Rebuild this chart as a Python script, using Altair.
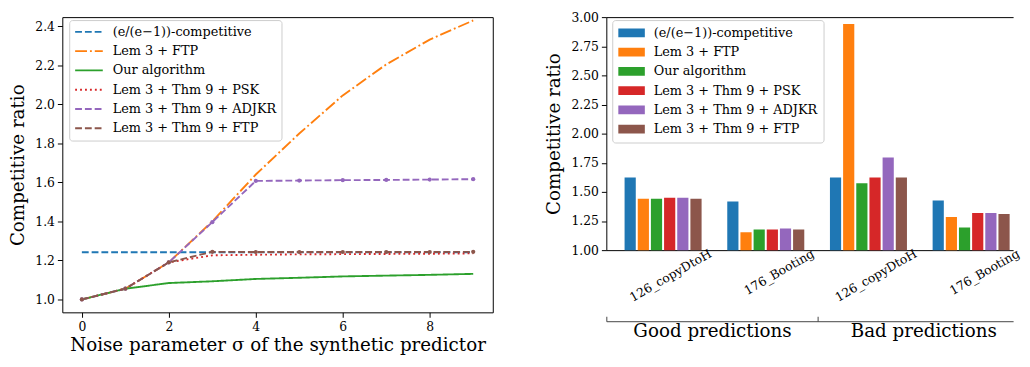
import altair as alt
import pandas as pd

FONT = "DejaVu Serif"

# ---------------- left panel data ----------------
sigma = [0, 1, 2, 3, 4, 5, 6, 7, 8, 9]
series_names = [
    "(e/(e−1))-competitive",
    "Lem 3 + FTP",
    "Our algorithm",
    "Lem 3 + Thm 9 + PSK",
    "Lem 3 + Thm 9 + ADJKR",
    "Lem 3 + Thm 9 + FTP",
]
competitive = [1.242, 1.242, 1.242, 1.242, 1.242, 1.242, 1.242, 1.242, 1.242, 1.242]
lem3_ftp = [1.000, 1.055, 1.190, 1.400, 1.640, 1.850, 2.045, 2.204, 2.331, 2.429]
our_algorithm = [1.000, 1.055, 1.084, 1.093, 1.105, 1.111, 1.118, 1.122, 1.126, 1.131]
thm9_psk = [1.000, 1.055, 1.190, 1.226, 1.229, 1.231, 1.232, 1.233, 1.234, 1.236]
thm9_adjkr = [1.000, 1.055, 1.190, 1.396, 1.607, 1.609, 1.611, 1.612, 1.614, 1.616]
thm9_ftp = [1.000, 1.055, 1.190, 1.244, 1.243, 1.243, 1.243, 1.243, 1.243, 1.244]
x_ticks = [0, 2, 4, 6, 8]
y_ticks_left = [1.0, 1.2, 1.4, 1.6, 1.8, 2.0, 2.2, 2.4]

# ---------------- right panel data ----------------
phases = ["Good predictions", "Bad predictions"]
traces = ["126_copyDtoH", "176_Booting"]
bar_competitive = [1.623, 1.417, 1.623, 1.425]
bar_lem3_ftp = [1.441, 1.153, 2.942, 1.285]
bar_our_algorithm = [1.441, 1.177, 1.573, 1.194]
bar_thm9_psk = [1.450, 1.177, 1.623, 1.318]
bar_thm9_adjkr = [1.450, 1.186, 1.796, 1.318]
bar_thm9_ftp = [1.441, 1.177, 1.623, 1.310]
y_ticks_right = [1.0, 1.25, 1.5, 1.75, 2.0, 2.25, 2.5, 2.75, 3.0]

colors = ["#1f77b4", "#ff7f0e", "#2ca02c", "#d62728", "#9467bd", "#8c564b"]
dashes = [[6.9, 3.0], [12, 3, 1.9, 3], [1, 0], [1.9, 3.1], [6.9, 3.0], [6.9, 3.0]]

# ---------------- left panel ----------------
line_series = [competitive, lem3_ftp, our_algorithm, thm9_psk, thm9_adjkr, thm9_ftp]
rows = []
for name, vals in zip(series_names, line_series):
    for s, v in zip(sigma, vals):
        rows.append({"series": name, "sigma": s, "ratio": v})
df_lines = pd.DataFrame(rows)

legend_line = alt.Legend(
    title=None, orient="none", legendX=7, legendY=3,
    symbolType="stroke", symbolSize=784, symbolStrokeWidth=1.9,
    clipHeight=14, rowPadding=5.5, padding=5, labelOffset=9,
    labelFont=FONT, labelFontSize=13, labelColor="black", labelLimit=400,
    fillColor="white", strokeColor="#cccccc", cornerRadius=3,
)

xl = alt.X("sigma:Q", scale=alt.Scale(domain=[-0.45, 9.45], nice=False, zero=False),
           axis=alt.Axis(values=x_ticks, format="d", domain=False,
                         title="Noise parameter σ of the synthetic predictor", titlePadding=3))
yl = alt.Y("ratio:Q", scale=alt.Scale(domain=[0.934, 2.446], nice=False, zero=False),
           axis=alt.Axis(values=y_ticks_left, format=".1f", domain=False,
                         title="Competitive ratio", titlePadding=7))

lines = alt.Chart(df_lines).mark_line(strokeWidth=1.9).encode(
    x=xl, y=yl,
    color=alt.Color("series:N", scale=alt.Scale(domain=series_names, range=colors),
                    sort=series_names, legend=legend_line),
    strokeDash=alt.StrokeDash("series:N", scale=alt.Scale(domain=series_names, range=dashes),
                              sort=series_names, legend=legend_line),
)
pts_adjkr = alt.Chart(df_lines).transform_filter(
    alt.datum.series == series_names[4]
).mark_circle(size=18, opacity=1, color=colors[4]).encode(x="sigma:Q", y="ratio:Q")
pts_ftp = alt.Chart(df_lines).transform_filter(
    alt.datum.series == series_names[5]
).mark_circle(size=18, opacity=1, color=colors[5]).encode(x="sigma:Q", y="ratio:Q")

left = alt.layer(lines, pts_adjkr, pts_ftp).properties(width=436, height=299)

# ---------------- right panel ----------------
groups = [f"{p}|{t}" for p in phases for t in traces]
bar_series = [bar_competitive, bar_lem3_ftp, bar_our_algorithm, bar_thm9_psk, bar_thm9_adjkr, bar_thm9_ftp]
brows = []
for name, vals in zip(series_names, bar_series):
    for g, v in zip(groups, vals):
        brows.append({"series": name, "group": g, "ratio": v})
df_bars = pd.DataFrame(brows)

legend_bar = alt.Legend(
    title=None, orient="none", legendX=6, legendY=3,
    symbolType="M-1,-0.33H1V0.33H-1Z", symbolSize=729, symbolStrokeWidth=0,
    clipHeight=14, rowPadding=5.5, padding=6, labelOffset=9,
    labelFont=FONT, labelFontSize=13, labelColor="black", labelLimit=400,
    fillColor="white", strokeColor="#cccccc", cornerRadius=3,
)

RW, RH = 412, 236
span = RW / 214.0

bars = alt.Chart(df_bars).mark_bar(clip=True).encode(
    x=alt.X("group:N", sort=groups,
            scale=alt.Scale(paddingInner=0.25, paddingOuter=0.1058, align=0.84),
            axis=alt.Axis(title=None, labelExpr="split(datum.label, '|')[1]",
                          labelAngle=330, labelAlign="right", labelBaseline="middle",
                          labelOffset=48, labelPadding=2, ticks=False, tickSize=0,
                          domain=True, labelFontSize=12.5)),
    xOffset=alt.XOffset("series:N", sort=series_names,
                        scale=alt.Scale(paddingInner=0.15, paddingOuter=0)),
    y=alt.Y("ratio:Q", scale=alt.Scale(domain=[1, 3], nice=False, zero=False),
            axis=alt.Axis(values=y_ticks_right, format=".2f", title="Competitive ratio",
                          titlePadding=8, grid=True, gridWidth=1,
                          gridColor={"condition": {"test": "datum.value >= 3", "value": "black"},
                                     "value": "transparent"})),
    color=alt.Color("series:N", scale=alt.Scale(domain=series_names, range=colors),
                    sort=series_names, legend=legend_bar),
).properties(width=RW, height=RH, view=alt.ViewBackground(stroke="transparent"))

# bracket below the bars: line with upward ticks at the phase boundaries,
# phase names centred between the boundaries
bracket_df = pd.DataFrame({"boundary": [0.0, 1.0], "phase": phases})
label_expr = f"datum.value < 1 ? '{phases[0]}' : '{phases[1]}'"
bracket = alt.Chart(bracket_df).mark_point(opacity=0).encode(
    x=alt.X("boundary:Q", scale=alt.Scale(domain=[0, span], nice=False, zero=False),
            axis=alt.Axis(orient="bottom", values=[0, 1], labelExpr=label_expr,
                          ticks=True, tickSize=alt.ExprRef(expr="-5"), domain=True,
                          domainColor="#444444", tickColor="#444444",
                          grid=False, title=None, labelFontSize=18.5,
                          labelOffset=107, labelPadding=5.5, labelFlush=False,
                          labelAlign="center", labelBaseline="top"))
).properties(width=RW, height=1, view=alt.ViewBackground(stroke="transparent"))

right = alt.vconcat(bars, bracket, spacing=71, bounds="flush")

chart = alt.hconcat(left, right, spacing=115, bounds="flush", padding=0).resolve_scale(
    color="independent", strokeDash="independent"
).configure_axis(
    labelFont=FONT, titleFont=FONT, labelColor="black", titleColor="black",
    tickColor="black", domainColor="black", labelFontSize=12.5, titleFontSize=18.5,
    titleFontWeight="normal", grid=False, tickSize=5, labelPadding=3,
    tickWidth=1, domainWidth=1,
).configure_legend(labelFont=FONT).configure_view(stroke="black", strokeWidth=1)

chart.save("out.html", embed_options={"renderer": "svg", "actions": False})
